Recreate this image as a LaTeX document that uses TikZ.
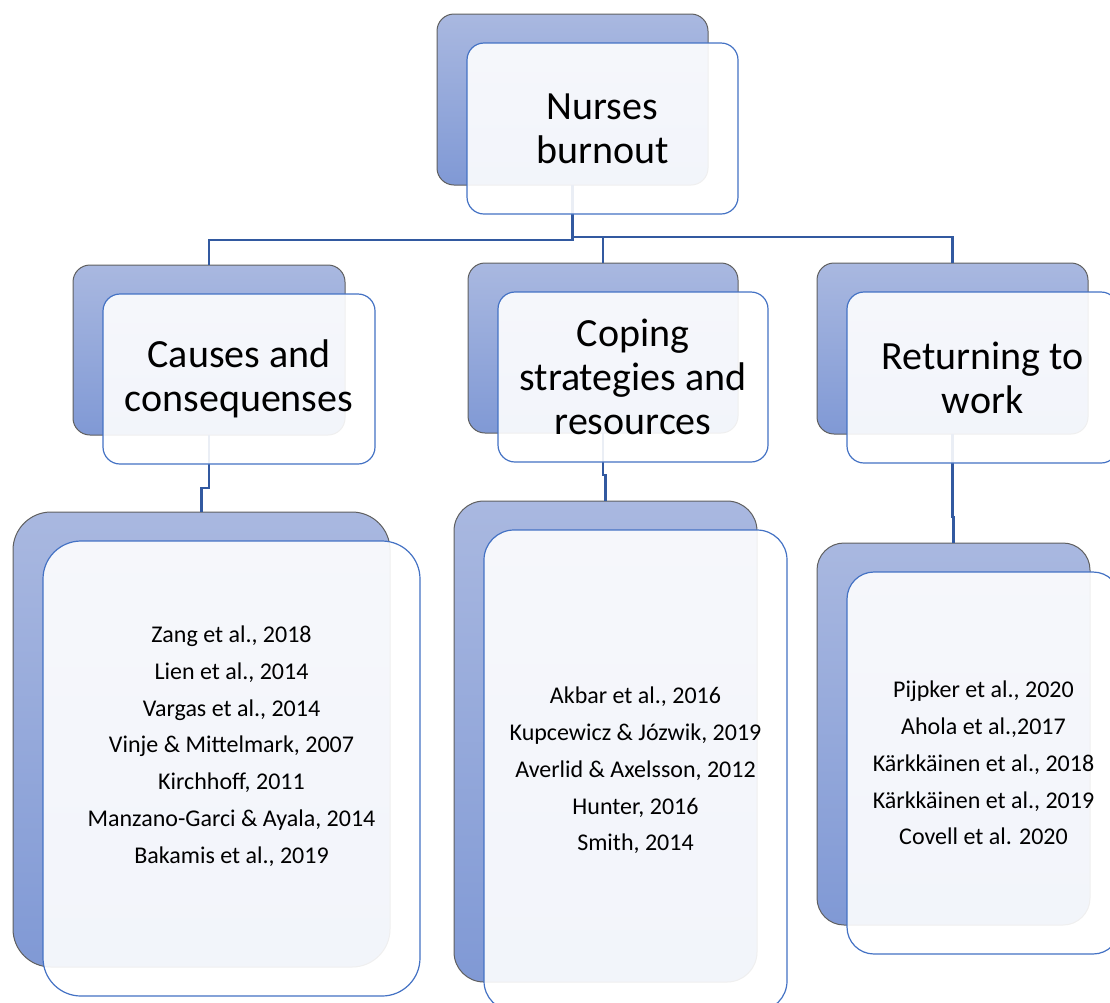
\documentclass[tikz,border=0pt]{standalone}
\usepackage{fontspec}
\setmainfont{Carlito}
\definecolor{boxtop}{HTML}{A9B8E0}
\definecolor{boxbottom}{HTML}{8099D5}
\definecolor{boxedge}{HTML}{5F5F5F}
\definecolor{frontedge}{HTML}{4472C4}
\definecolor{linkblue}{HTML}{3259A0}

\tikzset{
  backbox/.style={draw=boxedge, line width=1pt, top color=boxtop, bottom color=boxbottom,
    inner sep=0pt, outer sep=0pt},
  frontbox/.style={draw=frontedge, line width=1.2pt, fill=white, fill opacity=0.9,
    text opacity=1, inner sep=0pt, outer sep=0pt, align=center},
  bigtext/.style={font=\fontsize{40}{44}\selectfont},
  reftext/.style={font=\fontsize{24}{36.8}\selectfont},
  link/.style={draw=linkblue, line width=2.6pt}
}

\begin{document}
\begin{tikzpicture}[x=1pt, y=-1pt]
    \useasboundingbox (0,0) rectangle (1110,1002);
    \clip (0,0) rectangle (1110,1002);

    \node[backbox, rounded corners=17pt, minimum width=271pt, minimum height=171pt]
        (burnoutBack) at (572.5,99.5) {};
    \node[backbox, rounded corners=17pt, minimum width=272pt, minimum height=170pt]
        (causesBack) at (209,350) {};
    \node[backbox, rounded corners=17pt, minimum width=270pt, minimum height=170pt]
        (copingBack) at (603,348) {};
    \node[backbox, rounded corners=17pt, minimum width=271pt, minimum height=171pt]
        (returnBack) at (952.5,348.5) {};
    \node[backbox, rounded corners=38pt, minimum width=377pt, minimum height=455pt]
        (causesRefsBack) at (201.5,739.5) {};
    \node[backbox, rounded corners=30pt, minimum width=303pt, minimum height=481pt]
        (copingRefsBack) at (605.5,741.5) {};
    \node[backbox, rounded corners=27pt, minimum width=273pt, minimum height=382pt]
        (returnRefsBack) at (953.5,734) {};

    \draw[link] (burnoutBack.south) -- ++(0,55) -| (causesBack.north);
    \draw[link] (burnoutBack.south) -- ++(0,52) -| (copingBack.north);
    \draw[link] (burnoutBack.south) -- ++(0,52) -| (returnBack.north);
    \draw[link] (causesBack.south) -- ++(0,53) -| (causesRefsBack.north);
    \draw[link] (copingBack.south) -- ++(0,42) -| (copingRefsBack.north);
    \draw[link] (returnBack.south) -- ++(0,83) -| (returnRefsBack.north);

    \node[frontbox, bigtext, rounded corners=17pt, minimum width=271pt, minimum height=171pt]
        (burnout) at ([shift={(30,29)}]burnoutBack) {Nurses\\burnout};
    \node[frontbox, bigtext, rounded corners=17pt, minimum width=272pt, minimum height=170pt]
        (causes) at ([shift={(30,29)}]causesBack) {Causes and\\consequenses};
    \node[frontbox, bigtext, rounded corners=17pt, minimum width=270pt, minimum height=170pt]
        (coping) at ([shift={(30,29)}]copingBack) {Coping\\strategies and\\resources};
    \node[frontbox, bigtext, rounded corners=17pt, minimum width=271pt, minimum height=171pt]
        (return) at ([shift={(30,29)}]returnBack) {Returning to\\work};
    \node[frontbox, reftext, rounded corners=38pt, minimum width=377pt, minimum height=455pt]
        (causesRefs) at ([shift={(30,29)}]causesRefsBack)
        {Zang et al., 2018\\Lien et al., 2014\\Vargas et al., 2014\\Vinje \& Mittelmark, 2007\\
         Kirchhoff, 2011\\Manzano-Garci \& Ayala, 2014\\Bakamis et al., 2019\\ \strut};
    \node[frontbox, reftext, rounded corners=30pt, minimum width=303pt, minimum height=481pt]
        (copingRefs) at ([shift={(30,29)}]copingRefsBack)
        {Akbar et al., 2016\\Kupcewicz \& Józwik, 2019\\Averlid \& Axelsson, 2012\\
         Hunter, 2016\\Smith, 2014};
    \node[frontbox, reftext, rounded corners=27pt, minimum width=273pt, minimum height=382pt]
        (returnRefs) at ([shift={(30,29)}]returnRefsBack)
        {Pijpker et al., 2020\\Ahola et al.,2017\\Kärkkäinen et al., 2018\\
         Kärkkäinen et al., 2019\\Covell et al. 2020};
\end{tikzpicture}
\end{document}
